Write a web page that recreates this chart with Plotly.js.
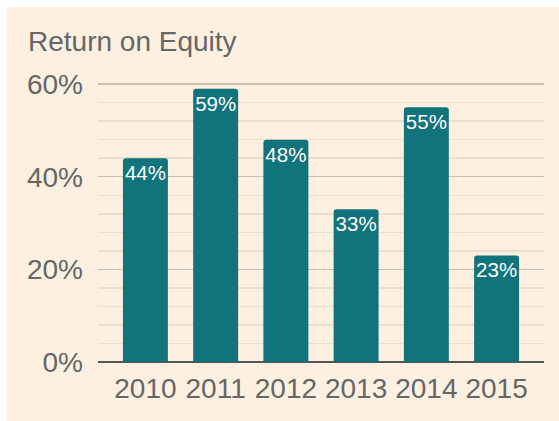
<!DOCTYPE html>
<html>
<head>
<meta charset="utf-8">
<script src="https://cdn.plot.ly/plotly-3.0.1.min.js"></script>
<style>
html,body{margin:0;padding:0;background:#ffffff;width:559px;height:421px;overflow:hidden;}
#chart{position:absolute;left:7px;top:7px;width:552px;height:414px;}
</style>
</head>
<body>
<div id="chart"></div>
<script>
const years = ['2010','2011','2012','2013','2014','2015'];
const roe = [44, 59, 48, 33, 55, 23];
const yTickVals = [0, 20, 40, 60];
const yTickText = ['0%', '20%', '40%', '60%'];
const chartTitle = 'Return on Equity';

const FONT = '"Liberation Sans", Arial, sans-serif';
const GRAY = '#666666';

const trace = {
  type: 'bar',
  x: years,
  y: roe,
  text: roe.map(v => v + '%'),
  texttemplate: '%{text}',
  textposition: 'inside',
  insidetextanchor: 'end',
  textangle: 0,
  constraintext: 'none',
  insidetextfont: {family: FONT, size: 20.5, color: '#ffffff'},
  marker: {color: '#11737c', cornerradius: 3, line: {width: 0}},
  hoverinfo: 'none'
};

const layout = {
  width: 552,
  height: 414,
  paper_bgcolor: '#fdf0e1',
  plot_bgcolor: '#fdf0e1',
  margin: {l: 91, r: 15, t: 75, b: 59},
  showlegend: false,
  bargap: 0.36,
  font: {family: FONT, color: GRAY},
  title: {
    text: chartTitle,
    font: {family: FONT, size: 28, color: GRAY},
    xref: 'container', x: 21/552, xanchor: 'left',
    yref: 'container', y: 1 - 24/414, yanchor: 'top'
  },
  xaxis: {
    type: 'category',
    range: [-0.675, 5.675],
    showgrid: false,
    showline: false,
    zeroline: false,
    ticks: '',
    ticklabelstandoff: 7,
    tickfont: {family: FONT, size: 28, color: GRAY}
  },
  yaxis: {
    range: [0, 60.45],
    tickvals: yTickVals,
    ticktext: yTickText,
    showgrid: true,
    gridcolor: '#cbbfae',
    gridwidth: 1.5,
    zeroline: true,
    zerolinecolor: '#555555',
    zerolinewidth: 2,
    showline: false,
    ticks: '',
    ticklabelstandoff: 14,
    tickfont: {family: FONT, size: 28, color: GRAY},
    minor: {dtick: 4, tick0: 0, showgrid: true, gridcolor: '#eadfcf', gridwidth: 1.5}
  }
};

Plotly.newPlot('chart', [trace], layout, {staticPlot: true, displayModeBar: false});
</script>
</body>
</html>
